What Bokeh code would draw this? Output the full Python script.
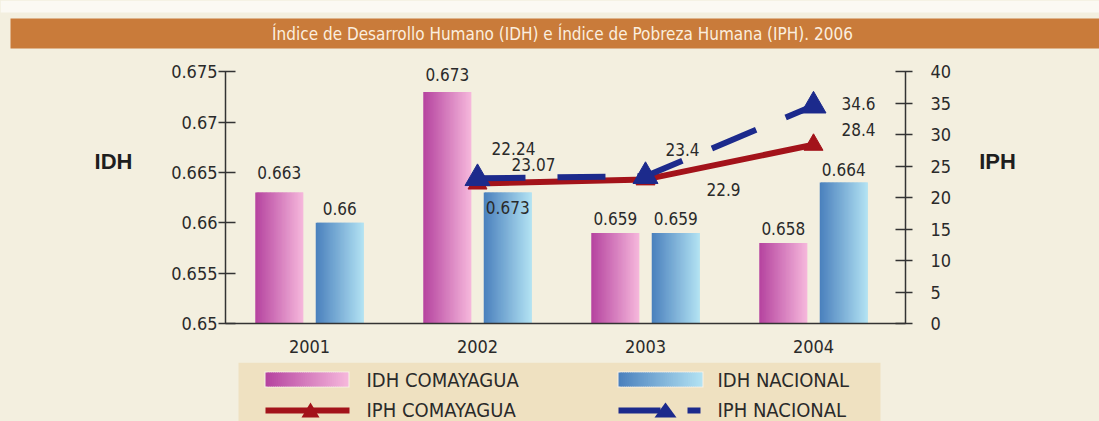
from bokeh.plotting import figure
from bokeh.layouts import column, row
from bokeh.models import (Range1d, LinearAxis, FixedTicker, ColumnDataSource,
                          PrintfTickFormatter)
from bokeh.core.properties import value
from bokeh.embed import file_html
from bokeh.resources import INLINE

# ---------------- data ----------------
years = ["2001", "2002", "2003", "2004"]
idh_comayagua = [0.663, 0.673, 0.659, 0.658]
idh_nacional = [0.660, 0.663, 0.659, 0.664]
idh_comayagua_labels = ["0.663", "0.673", "0.659", "0.658"]
idh_nacional_labels = ["0.66", "0.673", "0.659", "0.664"]

iph_years = ["2002", "2003", "2004"]
iph_comayagua = [22.24, 22.9, 28.4]
iph_nacional = [23.07, 23.4, 34.6]

idh_ticks = [0.65, 0.655, 0.66, 0.665, 0.67, 0.675]
iph_ticks = [0, 5, 10, 15, 20, 25, 30, 35, 40]

title_text = "Índice de Desarrollo Humano (IDH) e Índice de Pobreza Humana (IPH). 2006"
left_title = "IDH"
right_title = "IPH"
legend_labels = ["IDH COMAYAGUA", "IDH NACIONAL", "IPH COMAYAGUA", "IPH NACIONAL"]

# ---------------- style ----------------
FONT = "DejaVu Sans Condensed"
BG = "#f3efdf"
TEXT = "#2a2a2a"
PINK = ("#b5439f", "#f6b8dc")
BLUE = ("#4a80bd", "#b3e3f3")
RED = "#a3131a"
NAVY = "#1c2a8c"
W = 1099
TOP_H, MID_H, BOT_H = 52, 310, 59
L_W, R_W = 155, 131
M_W = W - L_W - R_W
PAD_L, PAD_R, PAD_T, PAD_B = 70, 63, 18, 39   # around the plotting area in the main panel
PX_PER_CAT = 168.0
BAR_W = 0.2857
BAR_OFF = 0.18
com_dy = [-20, -17, -14, -14]
nac_dy = [-14, 15, -14, -13]
line_dx = [36, 78, 45, 56, 37, 45]
line_dy = [-35, 10, -15, -14, -27, -2]


def lerp(c0, c1, t):
    a = [int(c0[i:i + 2], 16) for i in (1, 3, 5)]
    b = [int(c1[i:i + 2], 16) for i in (1, 3, 5)]
    return "#%02x%02x%02x" % tuple(round(a[k] + (b[k] - a[k]) * t) for k in range(3))


def panel(w, h):
    f = figure(width=w, height=h, output_backend="svg", toolbar_location=None,
               x_range=Range1d(0, w), y_range=Range1d(h, 0),
               x_axis_type=None, y_axis_type=None, min_border=0,
               background_fill_color=BG, border_fill_color=BG,
               outline_line_color=None, title_location=None,
               styles={"background-color": BG})
    f.grid.visible = False
    return f


def rect(f, l, r, t, b, color):
    f.quad(left=l, right=r, top=t, bottom=b, fill_color=color, line_color=None)


def txt(f, x, y, s, size, color=TEXT, align="left", font=FONT, style="normal"):
    f.text(x=[x], y=[y], text=[s], text_font=value(font), text_font_size=size,
           text_color=color, text_align=align, text_baseline="middle",
           text_font_style=style)


xpos = {y: i + 1 for i, y in enumerate(years)}

# ---------------- main panel ----------------
frame_w = M_W - PAD_L - PAD_R
frame_h = MID_H - PAD_T - PAD_B
idh_span = idh_ticks[-1] - idh_ticks[0]
idh_px = (frame_h - PAD_T) / idh_span
iph_span = iph_ticks[-1] - iph_ticks[0]
iph_px = (frame_h - PAD_T) / iph_span

p = figure(width=M_W, height=MID_H, output_backend="svg", toolbar_location=None,
           x_range=Range1d(0.5, 0.5 + frame_w / PX_PER_CAT),
           y_range=Range1d(idh_ticks[0], idh_ticks[-1] + PAD_T / idh_px),
           min_border_left=PAD_L, min_border_right=PAD_R,
           min_border_top=0, min_border_bottom=PAD_B,
           background_fill_color=BG, border_fill_color=BG,
           outline_line_color=None, title_location=None,
           styles={"background-color": BG})
p.grid.visible = False
p.extra_y_ranges = {"iph": Range1d(iph_ticks[0], iph_ticks[-1] + PAD_T / iph_px)}


def style_axis(ax):
    ax.axis_line_color = "#333333"
    ax.axis_line_width = 1.5
    ax.major_tick_line_color = "#333333"
    ax.major_tick_line_width = 1.5
    ax.minor_tick_line_color = None
    ax.major_label_text_font = FONT
    ax.major_label_text_font_size = "18px"
    ax.major_label_text_color = TEXT


xa = p.xaxis[0]
style_axis(xa)
xa.ticker = FixedTicker(ticks=[xpos[y] for y in years])
xa.major_label_overrides = {xpos[y]: y for y in years}
xa.major_tick_in = 0
xa.major_tick_out = 0
xa.major_label_standoff = 16

ya = p.yaxis[0]
style_axis(ya)
ya.ticker = FixedTicker(ticks=idh_ticks)
ya.formatter = PrintfTickFormatter(format="%g")
ya.bounds = (idh_ticks[0], idh_ticks[-1])
ya.major_tick_in = 10
ya.major_tick_out = 7
ya.major_label_standoff = 1

ra = LinearAxis(y_range_name="iph", ticker=FixedTicker(ticks=iph_ticks),
                bounds=(iph_ticks[0], iph_ticks[-1]))
style_axis(ra)
ra.major_tick_in = 10
ra.major_tick_out = 7
ra.major_label_standoff = 18
p.add_layout(ra, "right")

# gradient bars (vertical strips, each overlapping its neighbour by ~1px)
N = 36
OV = 1.2 / PX_PER_CAT
strips = dict(left=[], right=[], top=[], color=[])
for vals, off, cols in ((idh_comayagua, -BAR_OFF, PINK), (idh_nacional, BAR_OFF, BLUE)):
    for y, v in zip(years, vals):
        x0 = xpos[y] + off - BAR_W / 2
        for k in range(N):
            strips["left"].append(x0 + BAR_W * k / N)
            strips["right"].append(x0 + BAR_W * (k + 1) / N + (OV if k < N - 1 else 0))
            strips["top"].append(v)
            strips["color"].append(lerp(cols[0], cols[1], (k + 0.5) / N))
p.quad(left="left", right="right", top="top", bottom=idh_ticks[0], color="color",
       line_color=None, source=ColumnDataSource(strips))

bl = dict(x=[], y=[], text=[], dy=[])
for vals, labs, off, dys in ((idh_comayagua, idh_comayagua_labels, -BAR_OFF, com_dy),
                             (idh_nacional, idh_nacional_labels, BAR_OFF, nac_dy)):
    for y, v, t, d in zip(years, vals, labs, dys):
        bl["x"].append(xpos[y] + off)
        bl["y"].append(v)
        bl["text"].append(t)
        bl["dy"].append(d)
p.text(x="x", y="y", text="text", y_offset="dy", source=ColumnDataSource(bl),
       text_align="center", text_baseline="middle", text_font=value(FONT),
       text_font_size="17px", text_color=TEXT)

# IPH lines
ix = [xpos[y] for y in iph_years]
p.line(ix, iph_comayagua, y_range_name="iph", line_color=RED, line_width=6)
p.scatter(ix, iph_comayagua, y_range_name="iph", marker="triangle", size=19,
          fill_color=RED, line_color=RED)
p.line(ix, iph_nacional, y_range_name="iph", line_color=NAVY, line_width=6,
       line_dash="48 32")
p.scatter(ix, iph_nacional, y_range_name="iph", marker="triangle", size=25,
          fill_color=NAVY, line_color=NAVY)

ll = dict(x=ix + ix, y=iph_comayagua + iph_nacional,
          text=[str(v) for v in iph_comayagua] + [str(v) for v in iph_nacional],
          dx=line_dx, dy=line_dy)
p.text(x="x", y="y", text="text", x_offset="dx", y_offset="dy", y_range_name="iph",
       source=ColumnDataSource(ll), text_align="center", text_baseline="middle",
       text_font=value(FONT), text_font_size="17px", text_color=TEXT)

# ---------------- side panels ----------------
lp = panel(L_W, MID_H)
txt(lp, 113, 125, left_title, "22px", color="#1e1e1e", align="center",
    font="Liberation Sans", style="bold")
rp = panel(R_W, MID_H)
txt(rp, 29, 125, right_title, "22px", color="#1e1e1e", align="center",
    font="Liberation Sans", style="bold")

# ---------------- title band ----------------
tp = panel(W, TOP_H)
rect(tp, 0, W, 0, 12, "#fbf9f3")
rect(tp, 10, W, 18, 48, "#c97b3a")
txt(tp, 562, 33, title_text, "17px", color="#fbeedf", align="center")

# ---------------- legend band ----------------
bp = panel(W, BOT_H)
rect(bp, 238, 880, 0, BOT_H, "#efe1c1")
for (x0, x1), cols in (((265, 348), PINK), ((618, 702), BLUE)):
    rect(bp, x0 - 1, x1 + 1, 9, 25, "#f8f1e6")
    n = 40
    for k in range(n):
        rect(bp, x0 + (x1 - x0) * k / n,
             x0 + (x1 - x0) * (k + 1) / n + (1.2 if k < n - 1 else 0), 10, 24,
             lerp(cols[0], cols[1], (k + 0.5) / n))
txt(bp, 366, 17, legend_labels[0], "20px")
txt(bp, 717, 17, legend_labels[1], "20px")

rect(bp, 265, 349, 45, 51, RED)
bp.patch([301, 310, 319], [55, 40, 55], fill_color=RED, line_color=None)
rect(bp, 618, 660, 45, 51, NAVY)
bp.patch([654, 665, 676], [55, 40, 55], fill_color=NAVY, line_color=None)
rect(bp, 687, 700, 45, 51, NAVY)
txt(bp, 366, 47, legend_labels[2], "20px")
txt(bp, 717, 47, legend_labels[3], "20px")

mid = row(lp, p, rp, spacing=0, styles={"background-color": BG})
layout = column(tp, mid, bp, spacing=0, styles={"background-color": BG})
open("out.html", "w").write(file_html(layout, INLINE))
